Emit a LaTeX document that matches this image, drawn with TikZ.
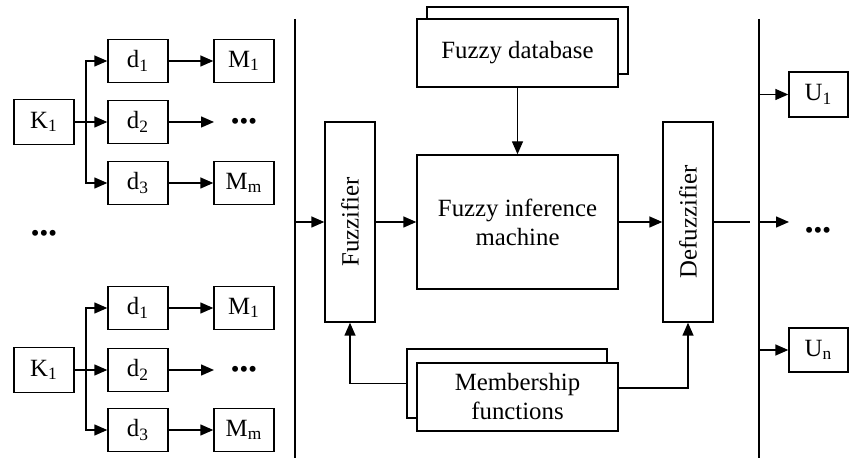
\documentclass[tikz,border=0pt]{standalone}
\usepackage{fontspec}
\setmainfont{Liberation Serif}
\usepackage{tikz}
\usetikzlibrary{arrows.meta}

\begin{document}
\begin{tikzpicture}[x=0.5pt,y=-0.5pt,
  font=\fontsize{12.4}{14.5}\selectfont,
  line width=0.7pt,
  box/.style={shape=rectangle, draw=black, fill=white, inner sep=0pt, minimum width=30pt, minimum height=21.5pt},
  widebox/.style={box, minimum width=100.5pt, minimum height=34pt, align=center},
  tallbox/.style={box, minimum width=25pt, minimum height=100pt},
  arr/.style={-{Triangle[length=6.5pt,width=5.5pt]}}]
\useasboundingbox (0,0) rectangle (849,458);

% first input group
\node[box, minimum height=22.5pt](ka) at (44,122) {K\textsubscript{1}};
\node[box](da1) at (138,61) {d\textsubscript{1}};
\node[box](da2) at (138,122) {d\textsubscript{2}};
\node[box](da3) at (138,183) {d\textsubscript{3}};
\node[box](ma1) at (244,61) {M\textsubscript{1}};
\node(mad) at (244,124) {\textbullet\textbullet\textbullet};
\node[box](mam) at (244,183) {M\textsubscript{m}};
\coordinate (sa) at (86,122);
\coordinate (ea) at (214,122);
\draw[arr] (ka.east) -- (da2.west);
\draw[arr] (sa) |- (da1.west);
\draw[arr] (sa) |- (da3.west);
\draw[arr] (da1.east) -- (ma1.west);
\draw[arr] (da2.east) -- (ea);
\draw[arr] (da3.east) -- (mam.west);

\node(kd) at (44,236) {\textbullet\textbullet\textbullet};

% second input group
\node[box, minimum height=22.5pt](kb) at (44,370) {K\textsubscript{1}};
\node[box](db1) at (138,308) {d\textsubscript{1}};
\node[box](db2) at (138,370) {d\textsubscript{2}};
\node[box](db3) at (138,430) {d\textsubscript{3}};
\node[box](mb1) at (244,308) {M\textsubscript{1}};
\node(mbd) at (244,372) {\textbullet\textbullet\textbullet};
\node[box](mbm) at (244,430) {M\textsubscript{m}};
\coordinate (sb) at (86,370);
\coordinate (eb) at (214,370);
\draw[arr] (kb.east) -- (db2.west);
\draw[arr] (sb) |- (db1.west);
\draw[arr] (sb) |- (db3.west);
\draw[arr] (db1.east) -- (mb1.west);
\draw[arr] (db2.east) -- (eb);
\draw[arr] (db3.east) -- (mbm.west);

% input and output buses
\coordinate (lt) at (295,19);
\coordinate (lb) at (295,458);
\coordinate (rt) at (759,19);
\coordinate (rb) at (759,458);
\draw (lt) -- (lb);
\draw (rt) -- (rb);

% fuzzy system
\node[tallbox](fuzz) at (350,222) {\rotatebox{90}{Fuzzifier}};
\node[tallbox](defuzz) at (688,222) {\rotatebox{90}{Defuzzifier}};
\node[widebox, minimum height=67pt](fim) at (517.5,222) {Fuzzy inference\\machine};
\node[widebox, minimum height=33.5pt](dbb) at (527.5,40.5) {};
\node[widebox](db) at (517.5,53) {Fuzzy database};
\node[widebox, minimum width=100pt, minimum height=34.5pt](mfb) at (507,383.5) {};
\node[widebox](mf) at (517.5,397) {Membership\\functions};

\coordinate (fin) at (295,222);
\coordinate (fout) at (750,222);
\coordinate (mfo) at (618,388);
\draw[arr] (fin) -- (fuzz.west);
\draw[arr] (fuzz.east) -- (fim.west);
\draw[arr] (db.south) -- (fim.north);
\draw[arr] (fim.east) -- (defuzz.west);
\draw (defuzz.east) -- (fout);
\draw[arr] (mfb.west) -| (fuzz.south);
\draw[arr] (mfo) -| (defuzz.south);

% outputs
\node[box, minimum width=29.5pt, minimum height=22.5pt](u1) at (818.5,94.5) {U\textsubscript{1}};
\node(ud) at (818,233) {\textbullet\textbullet\textbullet};
\node[box, minimum width=29.5pt, minimum height=22pt](un) at (818.5,350) {U\textsubscript{n}};
\coordinate (o1) at (759,94.5);
\coordinate (o2) at (759,222);
\coordinate (o2e) at (789,222);
\coordinate (o3) at (759,350);
\draw[arr] (o1) -- (u1.west);
\draw[arr] (o2) -- (o2e);
\draw[arr] (o3) -- (un.west);
\end{tikzpicture}
\end{document}
